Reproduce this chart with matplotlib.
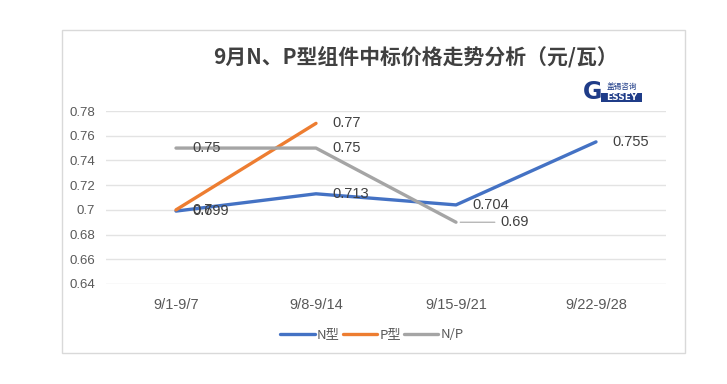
import matplotlib
matplotlib.use("Agg")
import matplotlib.pyplot as plt
from matplotlib.patches import Rectangle
import numpy as np

plt.rcParams['font.family'] = ['Noto Sans CJK SC', 'DejaVu Sans']

categories = ["9/1-9/7", "9/8-9/14", "9/15-9/21", "9/22-9/28"]
n_type = [0.699, 0.713, 0.704, 0.755]
p_type = [0.70, 0.77, None, None]
np_type = [0.75, 0.75, 0.69, None]
n_labels = ["0.699", "0.713", "0.704", "0.755"]
p_labels = ["0.7", "0.77", None, None]
np_labels = ["0.75", "0.75", "0.69", None]
yticks = [0.64, 0.66, 0.68, 0.70, 0.72, 0.74, 0.76, 0.78]
ytick_labels = ["0.64", "0.66", "0.68", "0.7", "0.72", "0.74", "0.76", "0.78"]

W, H = 727, 384
fig = plt.figure(figsize=(W/100, H/100), dpi=100)
fig.patch.set_facecolor("white")

# outer frame
fig.add_artist(Rectangle((62/W, 1-353/H), (685-62)/W, (353-30)/H,
                         transform=fig.transFigure, fill=False,
                         edgecolor="#D9D9D9", linewidth=1))

ax = fig.add_axes([106/W, 1-284/H, 560/W, (284-111)/H])
x = np.arange(len(categories))

colors = {"N": "#4472C4", "P": "#ED7D31", "NP": "#A5A5A5"}

def series(vals):
    xs = [i for i, v in enumerate(vals) if v is not None]
    ys = [v for v in vals if v is not None]
    return xs, ys

for vals, c, lab in [(n_type, colors["N"], "N型"),
                     (p_type, colors["P"], "P型"),
                     (np_type, colors["NP"], "N/P")]:
    xs, ys = series(vals)
    ax.plot(xs, ys, color=c, linewidth=2.4, label=lab, solid_capstyle="round")

ax.set_xlim(-0.5, 3.5)
ax.set_ylim(0.64, 0.78)
ax.set_yticks(yticks)
ax.set_yticklabels(ytick_labels)
ax.set_xticks(x)
ax.set_xticklabels(categories)
ax.tick_params(axis="both", length=0, colors="#595959", labelsize=9.5)
ax.tick_params(axis="x", pad=10, labelsize=10.5)
ax.tick_params(axis="y", pad=8)
for lbl in ax.get_yticklabels() + ax.get_xticklabels():
    lbl.set_family(['Liberation Sans', 'DejaVu Sans'])
ax.grid(axis="y", color="#E3E3E3", linewidth=1)
ax.set_axisbelow(True)
for s in ax.spines.values():
    s.set_visible(False)

lab_kw = dict(fontsize=10.5, color="#404040", va="center", ha="left",
              family=['Liberation Sans', 'DejaVu Sans'])
for vals, labs in [(n_type, n_labels), (p_type, p_labels), (np_type, np_labels)]:
    for i, (v, t) in enumerate(zip(vals, labs)):
        if v is None or t is None:
            continue
        if t == "0.69":
            ax.annotate(t, xy=(i, v), xytext=(32, 0), textcoords="offset points",
                        arrowprops=dict(arrowstyle="-", color="#A5A5A5", lw=0.8,
                                        shrinkA=2, shrinkB=3),
                        **lab_kw)
        else:
            ax.annotate(t, xy=(i, v), xytext=(12, 0), textcoords="offset points",
                        **lab_kw)

# title
fig.text(415/W, 1-57/H, "9月N、P型组件中标价格走势分析（元/瓦）", ha="center",
         va="center", fontsize=15, fontweight="bold", color="#404040")

# logo
logo_c = "#1F3C88"
fig.text(593/W, 1-92/H, "G", ha="center", va="center", fontsize=17,
         fontweight="bold", color=logo_c, family=['DejaVu Sans'])
fig.text(622/W, 1-87/H, "盖锡咨询", ha="center", va="center", fontsize=5.5,
         color=logo_c)
fig.add_artist(Rectangle((601/W, 1-102/H), 41/W, 9/H, transform=fig.transFigure,
                         facecolor=logo_c, edgecolor="none"))
fig.text(621.5/W, 1-97.5/H, "ESSEY", ha="center", va="center", fontsize=6.5,
         fontweight="bold", color="white", family=['DejaVu Sans'])

# legend
leg = fig.legend(loc="center", bbox_to_anchor=(372/W, 1-335/H), ncol=3,
                 frameon=False, fontsize=9.5, handlelength=2.6, columnspacing=0.25,
                 handletextpad=0.15, labelcolor="#595959")

fig.savefig("out.png", dpi=100, facecolor="white")
